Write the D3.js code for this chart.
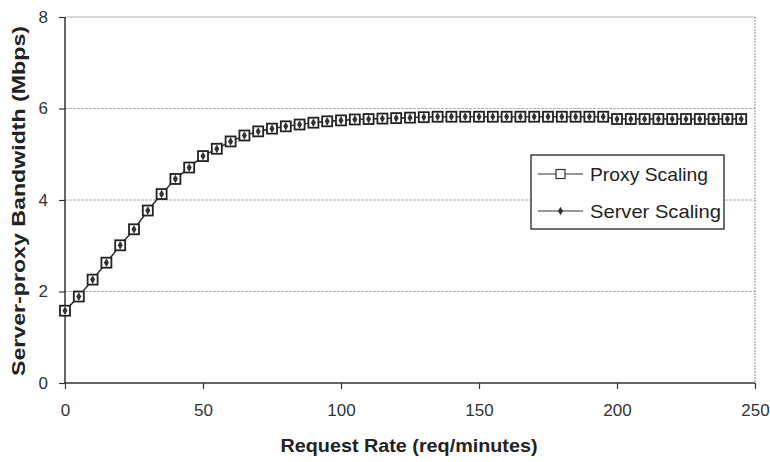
<!DOCTYPE html>
<html><head><meta charset="utf-8">
<script src="https://cdn.jsdelivr.net/npm/d3@7"></script>
<style>body{margin:0;background:#fff}</style>
</head><body>
<svg id="c" width="770" height="462"></svg>
<script>
const requestRate = [0,5,10,15,20,25,30,35,40,45,50,55,60,65,70,75,80,85,90,95,100,105,110,115,120,125,130,135,140,145,150,155,160,165,170,175,180,185,190,195,200,205,210,215,220,225,230,235,240,245];
const proxyScaling = [1.58,1.89,2.26,2.63,3.01,3.36,3.77,4.13,4.46,4.71,4.96,5.12,5.28,5.41,5.50,5.56,5.61,5.65,5.69,5.72,5.74,5.76,5.77,5.78,5.79,5.80,5.81,5.82,5.82,5.82,5.82,5.82,5.82,5.82,5.82,5.82,5.82,5.82,5.82,5.82,5.77,5.77,5.77,5.77,5.77,5.77,5.77,5.77,5.77,5.77];
const serverScaling = [1.58,1.89,2.26,2.63,3.01,3.36,3.77,4.13,4.46,4.71,4.96,5.12,5.28,5.41,5.50,5.56,5.61,5.65,5.69,5.72,5.74,5.76,5.77,5.78,5.79,5.80,5.81,5.82,5.82,5.82,5.82,5.82,5.82,5.82,5.82,5.82,5.82,5.82,5.82,5.82,5.77,5.77,5.77,5.77,5.77,5.77,5.77,5.77,5.77,5.77];
const xTicks = [0,50,100,150,200,250];
const yTicks = [0,2,4,6,8];
const seriesNames = ["Proxy Scaling","Server Scaling"];

const svg = d3.select("#c");
const L=65,R=755,T=17,B=383;
const x = d3.scaleLinear().domain([0,250]).range([L,R]);
const y = d3.scaleLinear().domain([0,8]).range([B,T]);
const font = "'Liberation Sans', Arial, sans-serif";

// gridlines
svg.append("g").selectAll("line").data(yTicks.filter(d=>d>0)).join("line")
  .attr("x1",L).attr("x2",R).attr("y1",d=>y(d)).attr("y2",d=>y(d))
  .attr("stroke","#b0b0b0").attr("stroke-width",1).attr("stroke-dasharray",d=>d===8?null:"3,1");
// right border
svg.append("line").attr("x1",R).attr("x2",R).attr("y1",T).attr("y2",B)
  .attr("stroke","#909090").attr("stroke-dasharray","2,1");

// axes
const xa = svg.append("g").attr("transform",`translate(0,${B})`)
  .call(d3.axisBottom(x).tickValues(xTicks).tickSize(6).tickPadding(15));
const ya = svg.append("g").attr("transform",`translate(${L},0)`)
  .call(d3.axisLeft(y).tickValues(yTicks).tickSize(6).tickPadding(11));
[xa,ya].forEach(a=>{
  a.select(".domain").attr("stroke","#333").attr("stroke-width",1.5);
  a.selectAll(".tick line").attr("stroke","#333").attr("stroke-width",1.2);
  a.selectAll(".tick text").attr("font-family",font).attr("font-size",17).attr("fill","#333")
    .attr("transform","scale(0.9,1)").each(function(){
      const t=d3.select(this); const p=this.parentNode.getAttribute("transform");
    });
});
// keep condensed look while preserving positions
xa.selectAll(".tick text").attr("transform",null).attr("textLength",null);
ya.selectAll(".tick text").attr("transform",null);
xa.select(".domain").attr("d",`M${L},0H${R}`);
ya.select(".domain").attr("d",`M0,${B}V${T}`);

// axis titles
svg.append("text").attr("x",(L+R)/2-1).attr("y",452).attr("text-anchor","middle")
  .attr("font-family",font).attr("font-weight","bold").attr("font-size",19).attr("fill","#222")
  .attr("textLength",257).attr("lengthAdjust","spacingAndGlyphs")
  .text("Request Rate (req/minutes)");
svg.append("text").attr("transform",`translate(25,${(T+B)/2+1}) rotate(-90)`).attr("text-anchor","middle")
  .attr("font-family",font).attr("font-weight","bold").attr("font-size",19).attr("fill","#222")
  .attr("textLength",350).attr("lengthAdjust","spacingAndGlyphs")
  .text("Server-proxy Bandwidth (Mbps)");

// lines
const line = d3.line().x((d,i)=>x(requestRate[i])).y(d=>y(d));
svg.append("path").datum(proxyScaling).attr("d",line).attr("fill","none").attr("stroke","#333").attr("stroke-width",1.2);
svg.append("path").datum(serverScaling).attr("d",line).attr("fill","none").attr("stroke","#333").attr("stroke-width",1.2);

// markers
const sq = 10;
svg.append("g").selectAll("rect").data(proxyScaling).join("rect")
  .attr("x",(d,i)=>x(requestRate[i])-sq/2).attr("y",d=>y(d)-sq/2)
  .attr("width",sq).attr("height",sq).attr("fill","#fff").attr("stroke","#222").attr("stroke-width",1.8);
const diamond = d3.symbol().type(d3.symbolDiamond).size(22);
svg.append("g").selectAll("path").data(serverScaling).join("path")
  .attr("transform",(d,i)=>`translate(${x(requestRate[i])},${y(d)})`)
  .attr("d",diamond).attr("fill","#333");

// legend
const lg = svg.append("g");
lg.append("rect").attr("x",531).attr("y",155).attr("width",193).attr("height",74)
  .attr("fill","#fff").attr("stroke","#222").attr("stroke-width",1.3);
const ly = [174,211];
const lw = [118,131];
seriesNames.forEach((n,i)=>{
  lg.append("line").attr("x1",538).attr("x2",583).attr("y1",ly[i]).attr("y2",ly[i]).attr("stroke","#333").attr("stroke-width",1.2);
  if(i===0){
    lg.append("rect").attr("x",556).attr("y",ly[i]-4.5).attr("width",9).attr("height",9)
      .attr("fill","#fff").attr("stroke","#333").attr("stroke-width",1.2);
  } else {
    lg.append("path").attr("transform",`translate(560.5,${ly[i]})`).attr("d",diamond).attr("fill","#333");
  }
  lg.append("text").attr("x",590).attr("y",ly[i]+7).attr("font-family",font).attr("font-size",19)
    .attr("fill","#222").attr("textLength",lw[i]).attr("lengthAdjust","spacingAndGlyphs").text(n);
});
</script>
</body></html>
